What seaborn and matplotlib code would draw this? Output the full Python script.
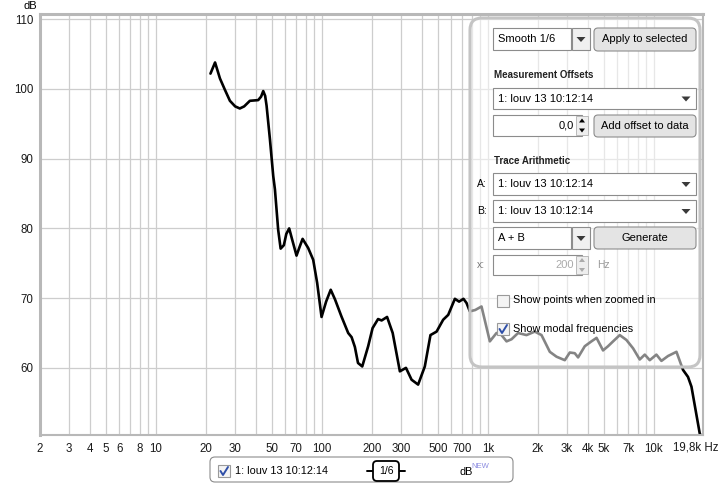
"""REW-style frequency response (1/6 smoothing) with the control panel overlay."""
import matplotlib

matplotlib.use("Agg")
import matplotlib.pyplot as plt
import matplotlib.transforms as mtransforms
import pandas as pd
import seaborn as sns
from matplotlib.lines import Line2D
from matplotlib.patches import FancyBboxPatch, Polygon
from matplotlib.ticker import LogLocator, NullFormatter

# --- Data ------------------------------------------------------------------
FREQ_HZ = [21.3, 22.7, 24.3, 26.0, 27.9, 30.0, 32.0, 34.0, 36.8, 41.3, 43.0,
           44.3, 45.5, 46.4, 48.6, 50.9, 52.1, 54.5, 56.4, 59.0, 61.0, 63.5,
           66.0, 70.3, 73.0, 76.5, 82.6, 88.6, 93.6, 99.5, 106, 113, 120, 131,
           144, 151, 158, 165, 175, 190, 202, 218, 229, 247, 267, 295, 321,
           347, 380, 417, 451, 491, 538, 577, 633, 671, 713, 744, 779, 840,
           916, 1028, 1128, 1209, 1296, 1389, 1521, 1710, 1919, 2106, 2363,
           2593, 2909, 3118, 3341, 3499, 3838, 4210, 4519, 4946, 5300, 5686,
           6237, 6842, 7504, 8230, 8826, 9458, 10370, 11120, 12190, 13700,
           15010, 16080, 16870, 18920, 19700]
SPL_DB = [102.2, 103.8, 101.5, 99.9, 98.3, 97.5, 97.2, 97.5, 98.3, 98.4, 98.9,
          99.7, 99.0, 97.6, 92.8, 87.5, 85.6, 79.8, 77.1, 77.6, 79.2, 80.0,
          78.5, 76.1, 77.2, 78.5, 77.2, 75.5, 72.2, 67.3, 69.5, 71.2, 69.8, 67.4,
          65.0, 64.4, 63.0, 60.7, 60.2, 63.1, 65.7, 67.0, 66.8, 67.3, 65.0, 59.5,
          60.0, 58.3, 57.6, 60.2, 64.7, 65.2, 66.9, 67.6, 69.9, 69.5, 69.9, 69.3,
          68.1, 68.3, 68.8, 63.8, 65.0, 64.7, 63.8, 64.1, 65.0, 64.7, 65.2, 64.7,
          62.3, 61.6, 61.1, 62.2, 62.1, 61.5, 63.1, 63.8, 64.3, 62.5, 63.1, 63.8,
          64.7, 64.0, 62.8, 61.2, 61.9, 61.1, 61.9, 61.0, 61.7, 62.3, 59.7, 58.7,
          57.3, 50.6, 49.8]

X_TICKS = [2, 3, 4, 5, 6, 8, 10, 20, 30, 50, 70, 100, 200, 300, 500, 700,
           1000, 2000, 3000, 4000, 5000, 7000, 10000]
X_LABELS = ["2", "3", "4", "5", "6", "8", "10", "20", "30", "50", "70", "100",
            "200", "300", "500", "700", "1k", "2k", "3k", "4k", "5k", "7k", "10k"]
Y_TICKS = [60, 70, 80, 90, 100, 110]
TRACE = "1: louv 13 10:12:14"

W, H = 723, 484
BORDER = "#8c8c8c"

sns.set_style("white")
plt.rcParams["font.family"] = ["Liberation Sans", "DejaVu Sans"]

fig = plt.figure(figsize=(W / 100, H / 100), dpi=100)
PIX = mtransforms.IdentityTransform()


# --- pixel helpers (x from left, y from top) -------------------------------
def box(x0, y0, x1, y1, fc="white", ec=BORDER, r=0, lw=0.8, z=5):
    style = f"round,pad=0,rounding_size={r}" if r else "square,pad=0"
    fig.add_artist(FancyBboxPatch((x0, H - y1), x1 - x0, y1 - y0, boxstyle=style,
                                  fc=fc, ec=ec, lw=lw, transform=PIX, zorder=z))


def label(x, y, s, size=8, color="black", ha="left", **kw):
    fig.text(x, H - y, s, transform=PIX, fontsize=size, color=color, ha=ha,
             va="center", zorder=8, **kw)


def arrow(cx, cy, color="#3a3a3a"):
    fig.add_artist(Polygon([(cx - 4.5, H - cy + 2), (cx + 4.5, H - cy + 2),
                            (cx, H - cy - 3)], closed=True, fc=color, ec="none",
                           transform=PIX, zorder=7))


def combo(x0, y0, x1, y1, text, split=False):
    box(x0, y0, x1, y1)
    label(x0 + 5, (y0 + y1) / 2, text)
    if split:
        box(x1 + 1, y0, x1 + 19, y1, fc="#f0f0f0")
        arrow(x1 + 10, (y0 + y1) / 2)
    else:
        arrow(x1 - 10, (y0 + y1) / 2)


def button(x0, y0, x1, y1, text):
    box(x0, y0, x1, y1, fc="#e4e4e4", r=4)
    label((x0 + x1) / 2, (y0 + y1) / 2, text, ha="center")


def spinner(x0, y0, x1, y1, text, color="black"):
    box(x0, y0, x1, y1)
    label(x1 - 8, (y0 + y1) / 2, text, ha="right", color=color)
    box(x1 - 6, y0 + 1, x1 + 6, y1 - 1, fc="#eeeeee", ec="#b0b0b0", lw=0.6, z=6)
    cy = (y0 + y1) / 2
    fig.add_artist(Polygon([(x1 - 3, H - cy + 3), (x1 + 3, H - cy + 3), (x1, H - cy + 7)],
                           fc=color, ec="none", transform=PIX, zorder=7))
    fig.add_artist(Polygon([(x1 - 3, H - cy - 3), (x1 + 3, H - cy - 3), (x1, H - cy - 7)],
                           fc=color, ec="none", transform=PIX, zorder=7))


def checkbox(x, y, checked):
    box(x, y, x + 12, y + 12, fc="#f4f4f4", ec="#9a9a9a")
    if checked:
        fig.add_artist(Line2D([x + 2.5, x + 5, x + 10], [H - y - 6, H - y - 10, H - y - 2],
                              color="#2f4fa8", lw=1.4, transform=PIX, zorder=7))


# --- main plot ---------------------------------------------------------------
ax = fig.add_axes([40 / W, 1 - 435 / H, 663 / W, 421 / H])
df = pd.DataFrame({"freq": FREQ_HZ, "db": SPL_DB})
sns.lineplot(data=df, x="freq", y="db", color="black", lw=1.9, ax=ax)
ax.set_xscale("log")
ax.set_xlim(2, 19800)
ax.set_ylim(50.37, 110.75)
ax.set_xticks(X_TICKS, X_LABELS)
ax.xaxis.set_minor_locator(LogLocator(base=10, subs=range(1, 10), numticks=30))
ax.xaxis.set_minor_formatter(NullFormatter())
ax.set_yticks(Y_TICKS)
ax.grid(True, which="both", axis="x", color="#cdcdcd", lw=0.9)
ax.grid(True, which="major", axis="y", color="#cdcdcd", lw=0.9)
ax.tick_params(which="both", length=0, labelsize=8.3, colors="#1a1a1a")
ax.tick_params(axis="x", pad=6)
ax.tick_params(axis="y", pad=5)
ax.set_xlabel("")
ax.set_ylabel("")
for side, sp in ax.spines.items():
    sp.set_color("#b8b8b8")
    sp.set_linewidth(2.2 if side in ("left", "top") else 1.5)

label(23, 6, "dB", size=8)
label(673, 447, "19,8k Hz", size=8.3, color="#1a1a1a")

# --- control panel overlay ---------------------------------------------------
box(470, 18, 700, 367, fc=(1, 1, 1, 0.52), ec="#c4c4c4", r=12, lw=2.2, z=4)
combo(493, 28, 571, 50, "Smooth 1/6", split=True)
button(594, 28, 696, 51, "Apply to selected")
label(494, 75, "Measurement Offsets", size=7, weight="bold", color="#222222")
combo(493, 88, 696, 109, TRACE)
spinner(493, 115, 582, 136, "0,0")
button(594, 115, 696, 137, "Add offset to data")
label(494, 161, "Trace Arithmetic", size=7, weight="bold", color="#222222")
label(477, 184, "A:", size=7.5)
combo(493, 173, 696, 195, TRACE)
label(477, 211, "B:", size=7.5)
combo(493, 200, 696, 222, TRACE)
combo(493, 227, 571, 249, "A + B", split=True)
button(594, 227, 696, 249, "Generate")
label(477, 265, "x:", size=7.5, color="#777777")
spinner(493, 255, 582, 275, "200", color="#aaaaaa")
label(597, 265, "Hz", size=7.5, color="#999999")
checkbox(497, 295, False)
label(513, 300, "Show points when zoomed in", size=7.8)
checkbox(497, 323, True)
label(513, 329, "Show modal frequencies", size=7.8)

# --- trace legend at the bottom ----------------------------------------------
box(210, 457, 513, 482, r=5)
checkbox(218, 465, True)
label(235, 471, TRACE, size=7.8)
fig.add_artist(Line2D([367, 405], [H - 471, H - 471], color="black", lw=1.4,
                      transform=PIX, zorder=6))
box(373, 461, 399, 481, fc="white", ec="black", r=4, lw=1.3, z=7)
label(386, 471, "1/6", size=7.5, ha="center")
label(460, 472, "dB", size=7.8)
label(471, 466, "NEW", size=5.5, color="#8a8ae0")

fig.savefig("out.png", dpi=100)
